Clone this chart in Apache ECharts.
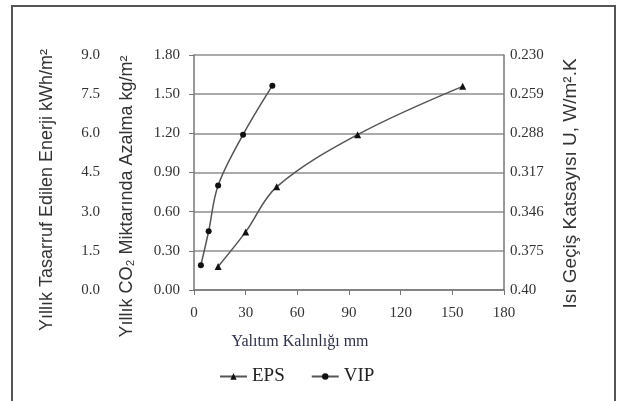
<!DOCTYPE html>
<html>
<head>
<meta charset="utf-8">
<script src="https://cdn.jsdelivr.net/npm/echarts@6/dist/echarts.min.js"></script>
<style>
  html, body { margin: 0; padding: 0; background: #fff; }
  #chart { width: 620px; height: 401px; }
</style>
</head>
<body>
<div id="chart"></div>
<script>
// yalıtım kalınlığı (mm) / yıllık CO2 azalma (kg/m2)
const epsPoints = [[14, 0.18], [30, 0.445], [48, 0.79], [95, 1.19], [156, 1.56]];
const vipPoints = [[4, 0.19], [8.5, 0.45], [14, 0.80], [28.5, 1.19], [45.5, 1.565]];

// sağ eksen etiketleri (alttan üste)
const uLabels = ['0.40', '0.375', '0.346', '0.317', '0.288', '0.259', '0.230'];

const serif = 'Liberation Serif';
const sans = 'Liberation Sans';
const lineColor = '#555';

const chart = echarts.init(document.getElementById('chart'));

chart.setOption({
  animation: false,
  backgroundColor: '#fff',
  grid: { left: 194, right: 116, top: 55, bottom: 111 },
  graphic: [
    {
      type: 'rect',
      shape: { x: 12, y: 6, width: 603, height: 400 },
      style: { fill: 'none', stroke: '#555', lineWidth: 2 }
    }
  ],
  legend: {
    left: 214,
    top: 362,
    itemWidth: 27,
    itemHeight: 8,
    itemGap: 26,
    textStyle: { fontFamily: serif, fontSize: 19, color: '#222' },
    data: ['EPS', 'VIP']
  },
  xAxis: {
    type: 'value',
    min: 0,
    max: 180,
    interval: 30,
    name: 'Yalıtım Kalınlığı mm',
    nameLocation: 'middle',
    nameGap: 44,
    nameTextStyle: { fontFamily: serif, fontSize: 16, color: '#2d3247', padding: [0, 98, 0, 0] },
    axisLine: { lineStyle: { color: '#777', width: 1.5 } },
    axisTick: { show: true, length: 5, lineStyle: { color: '#777' } },
    axisLabel: { fontFamily: serif, fontSize: 15, color: '#333', margin: 16 },
    splitLine: { show: false }
  },
  yAxis: [
    {
      type: 'value',
      position: 'left',
      min: 0,
      max: 1.8,
      interval: 0.3,
      name: 'Yıllık CO₂ Miktarında Azalma kg/m²',
      nameLocation: 'middle',
      nameGap: 58,
      nameTextStyle: { fontFamily: sans, fontSize: 18, color: '#333', padding: [0, 48, 0, 0] },
      axisLine: { show: true, lineStyle: { color: '#777', width: 1.5 } },
      axisTick: { show: true, length: 5, lineStyle: { color: '#777' } },
      axisLabel: { fontFamily: serif, fontSize: 15, color: '#333', margin: 14,
        formatter: (v) => v.toFixed(2) },
      splitLine: { show: true, lineStyle: { color: '#aaa', width: 2 } }
    },
    {
      type: 'value',
      position: 'left',
      offset: 86,
      min: 0,
      max: 9,
      interval: 1.5,
      name: 'Yıllık Tasarruf Edilen Enerji kWh/m²',
      nameLocation: 'middle',
      nameGap: 52,
      nameTextStyle: { fontFamily: sans, fontSize: 18, color: '#333', padding: [0, 35, 0, 0] },
      axisLine: { show: false },
      axisTick: { show: false },
      axisLabel: { fontFamily: serif, fontSize: 15, color: '#333', margin: 8,
        formatter: (v) => v.toFixed(1) },
      splitLine: { show: false }
    },
    {
      type: 'value',
      position: 'right',
      min: 0,
      max: 6,
      interval: 1,
      name: 'Isı Geçiş Katsayısı U, W/m².K',
      nameLocation: 'middle',
      nameGap: 57,
      nameTextStyle: { fontFamily: sans, fontSize: 19, color: '#333', padding: [0, 22, 0, 0] },
      axisLine: { show: true, lineStyle: { color: '#777', width: 1.5 } },
      axisTick: { show: false },
      axisLabel: { fontFamily: serif, fontSize: 15, color: '#333', margin: 6,
        formatter: (v) => uLabels[Math.round(v)] },
      splitLine: { show: false }
    }
  ],
  series: [
    {
      name: 'EPS',
      type: 'line',
      yAxisIndex: 0,
      data: epsPoints,
      smooth: 0.35,
      symbol: 'triangle',
      symbolSize: 7,
      lineStyle: { color: lineColor, width: 1.5 },
      itemStyle: { color: '#111' }
    },
    {
      name: 'VIP',
      type: 'line',
      yAxisIndex: 0,
      data: vipPoints,
      smooth: 0.35,
      symbol: 'circle',
      symbolSize: 6,
      lineStyle: { color: lineColor, width: 1.5 },
      itemStyle: { color: '#111' }
    }
  ]
});
</script>
</body>
</html>
